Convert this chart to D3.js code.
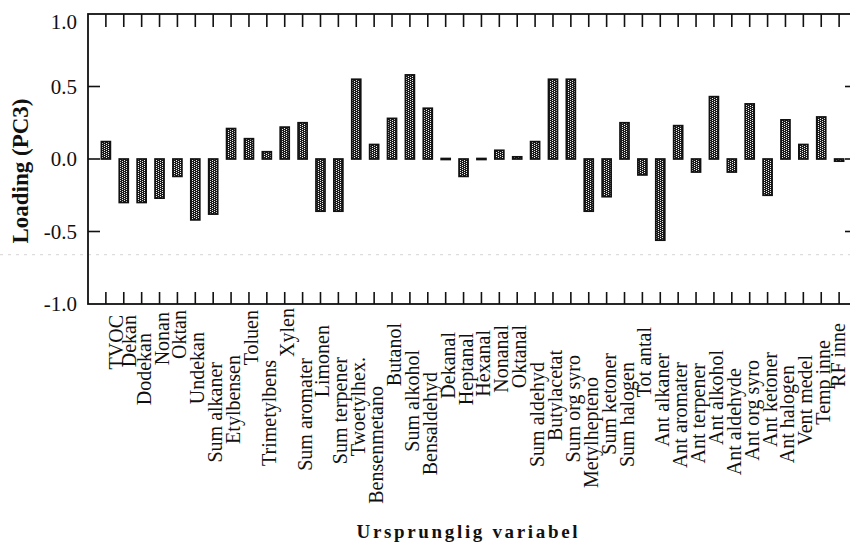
<!DOCTYPE html>
<html>
<head>
<meta charset="utf-8">
<script src="https://cdn.jsdelivr.net/npm/d3@7"></script>
<style>
    body { margin: 0; background: #fff; }
    svg { display: block; }
    text { font-family: "Liberation Serif", "Times New Roman", serif; fill: #111; }
</style>
</head>
<body>
<svg width="850" height="549"></svg>
<script>
// variable names as printed under the axis
const categories = [
    "TVOC", "Dekan", "Dodekan", "Nonan", "Oktan", "Undekan", "Sum alkaner",
    "Etylbensen", "Toluen", "Trimetylbens", "Xylen", "Sum aromater", "Limonen",
    "Sum terpener", "Twoetylhex.", "Bensenmetano", "Butanol", "Sum alkohol",
    "Bensaldehyd", "Dekanal", "Heptanal", "Hexanal", "Nonanal", "Oktanal",
    "Sum aldehyd", "Butylacetat", "Sum org syro", "Metylhepteno", "Sum ketoner",
    "Sum halogen", "Tot antal", "Ant alkaner", "Ant aromater", "Ant terpener",
    "Ant alkohol", "Ant aldehyde", "Ant org syro", "Ant ketoner", "Ant halogen",
    "Vent medel", "Temp inne", "RF inne"
];

// PC3 loadings
const loadings = [
    0.12, -0.30, -0.30, -0.27, -0.12, -0.42, -0.38,
    0.21, 0.14, 0.05, 0.22, 0.25, -0.36,
    -0.36, 0.55, 0.10, 0.28, 0.58,
    0.35, 0.00, -0.12, 0.00, 0.06, 0.015,
    0.12, 0.55, 0.55, -0.36, -0.26,
    0.25, -0.11, -0.56, 0.23, -0.09,
    0.43, -0.09, 0.38, -0.25, 0.27,
    0.10, 0.29, -0.015
];

const yTicks = [-1.0, -0.5, 0.0, 0.5, 1.0];

// the labels in the original are staggered: where each one ends (px below the frame)
const labelEnd = [
    11, 11, 29, 8, 6, 28, 58,
    51, 6, 56, 4, 54, 21,
    53, 53, 82, 19, 46,
    68, 28, 29, 26, 21, 21,
    58, 46, 51, 73, 49,
    58, 23, 49, 58, 59,
    46, 64, 56, 48, 61,
    51, 36, 19
];
const labelNudge = {"TVOC": 8, "Dekan": 3, "RF inne": -3};

const svg = d3.select("svg");
const plotLeft = 88, plotRight = 857, plotTop = 14, plotBottom = 304;

const x = d3.scalePoint().domain(categories).range([plotLeft, plotRight]).padding(1);
const y = d3.scaleLinear().domain([-1, 1]).range([plotBottom, plotTop]);
const barW = 9;

// stipple fill like the printed bars
const defs = svg.append("defs");
const pat = defs.append("pattern")
    .attr("id", "stipple")
    .attr("patternUnits", "userSpaceOnUse")
    .attr("width", 4).attr("height", 2);
pat.append("rect").attr("width", 4).attr("height", 2).attr("fill", "#1c1c1c");
pat.append("rect").attr("x", 0).attr("y", 0).attr("width", 1).attr("height", 1).attr("fill", "#eee");
pat.append("rect").attr("x", 2).attr("y", 1).attr("width", 1).attr("height", 1).attr("fill", "#eee");

// faint scanner streak across the plot
svg.append("line")
    .attr("x1", 0).attr("x2", 850)
    .attr("y1", y(-0.66)).attr("y2", y(-0.66))
    .attr("stroke", "#d4d4d4").attr("stroke-width", 1)
    .attr("stroke-dasharray", "3,5");

// frame
svg.append("rect")
    .attr("x", plotLeft).attr("y", plotTop)
    .attr("width", plotRight - plotLeft).attr("height", plotBottom - plotTop)
    .attr("fill", "none").attr("stroke", "#111").attr("stroke-width", 1.8);

// inward ticks on top and bottom at every variable
const tickG = svg.append("g").attr("stroke", "#111").attr("stroke-width", 1.6);
tickG.selectAll(".tt").data(categories).join("line")
    .attr("x1", d => x(d)).attr("x2", d => x(d))
    .attr("y1", plotTop).attr("y2", plotTop + 13);
tickG.selectAll(".bt").data(categories).join("line")
    .attr("x1", d => x(d)).attr("x2", d => x(d))
    .attr("y1", plotBottom).attr("y2", plotBottom - 12);

// inward y ticks on both sides
const inner = yTicks.filter(v => v > -1 && v < 1);
tickG.selectAll(".yl").data(inner).join("line")
    .attr("x1", plotLeft).attr("x2", plotLeft + 12)
    .attr("y1", d => y(d)).attr("y2", d => y(d));
tickG.selectAll(".yr").data(inner).join("line")
    .attr("x1", plotRight - 12).attr("x2", plotRight)
    .attr("y1", d => y(d)).attr("y2", d => y(d));

// y tick labels
svg.append("g").selectAll("text").data(yTicks).join("text")
    .attr("x", 77)
    .attr("y", d => Math.max(y(d), plotTop + 8))
    .attr("dy", "0.35em")
    .attr("text-anchor", "end")
    .attr("font-size", 21)
    .text(d => d.toFixed(1));

// bars
const data = categories.map((c, i) => ({name: c, value: loadings[i]}));
svg.append("g").selectAll("rect").data(data).join("rect")
    .attr("x", d => x(d.name) - barW / 2)
    .attr("y", d => d.value === 0 ? y(0) - 0.5 : y(Math.max(0, d.value)))
    .attr("width", barW)
    .attr("height", d => Math.max(1, Math.abs(y(d.value) - y(0))))
    .attr("fill", "url(#stipple)")
    .attr("stroke", "#111")
    .attr("stroke-width", 1.7);

// rotated category labels
svg.append("g").selectAll("text").data(categories).join("text")
    .attr("transform", (d, i) =>
        `translate(${x(d) + 9 + (labelNudge[d] || 0)},${plotBottom + labelEnd[i]}) rotate(-90)`)
    .attr("text-anchor", "end")
    .attr("font-size", 20)
    .text(d => d);

// axis titles
svg.append("text")
    .attr("transform", "translate(28,171) rotate(-90)")
    .attr("text-anchor", "middle")
    .attr("font-size", 23)
    .attr("font-weight", "bold")
    .text("Loading (PC3)");

svg.append("text")
    .attr("x", 467).attr("y", 538)
    .attr("text-anchor", "middle")
    .attr("font-size", 19)
    .attr("font-weight", "bold")
    .attr("textLength", 221)
    .attr("lengthAdjust", "spacing")
    .text("Ursprunglig variabel");
</script>
</body>
</html>
